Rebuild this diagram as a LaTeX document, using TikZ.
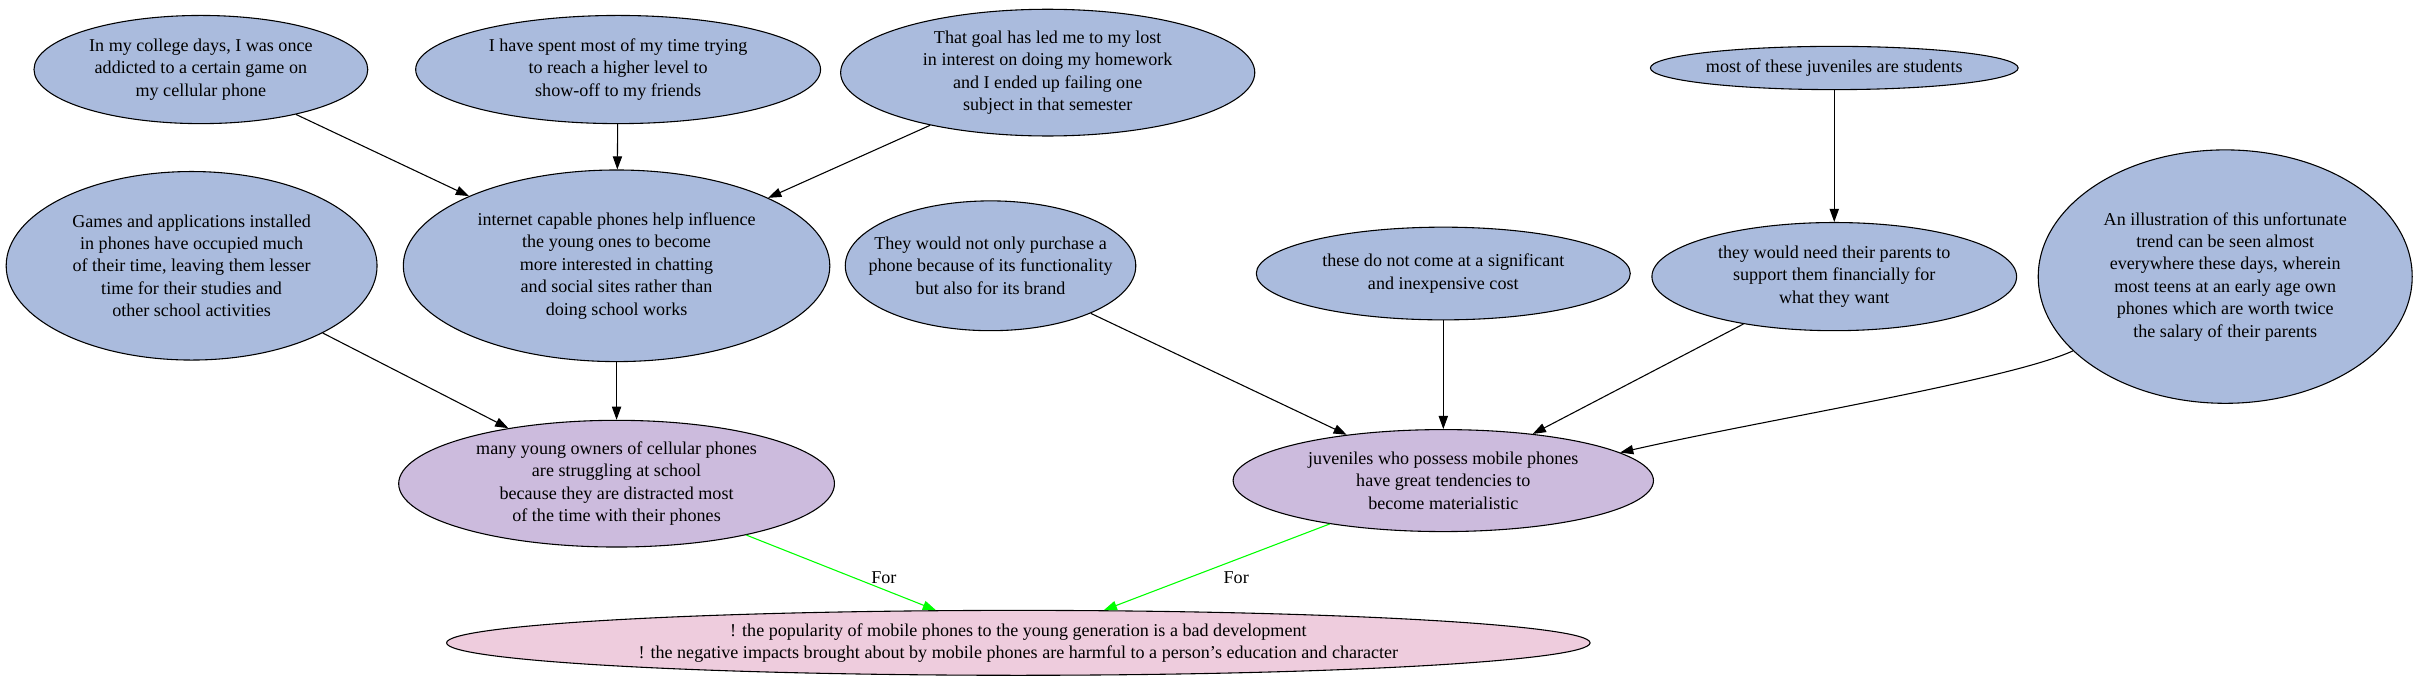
\documentclass[tikz,border=0pt]{standalone}
\usepackage{fontspec}
\setmainfont{Liberation Serif}
\usetikzlibrary{shapes.geometric,arrows.meta}
\definecolor{nblue}{HTML}{AABBDD}
\definecolor{npurple}{HTML}{CCBBDD}
\definecolor{npink}{HTML}{EECCDD}
\definecolor{egreen}{HTML}{00FF00}
\begin{document}
\begin{tikzpicture}[x=1pt,y=-1pt,
  base/.style={ellipse, draw=black, line width=0.7pt, inner sep=0pt, align=center,
    font=\fontsize{11.7}{14.5}\selectfont},
  bluenode/.style={base, fill=nblue},
  purplenode/.style={base, fill=npurple},
  pinknode/.style={base, fill=npink},
  textlab/.style={inner sep=0pt, align=center, font=\fontsize{11.7}{14.5}\selectfont},
  arr/.style={draw=black, line width=0.7pt, -{Triangle[length=8.5pt,width=6pt]}},
  garr/.style={draw=egreen, line width=0.7pt, -{Triangle[length=8.5pt,width=6pt]}},
  lab/.style={font=\fontsize{11.7}{14.5}\selectfont, text=black, inner sep=0pt}
]
\useasboundingbox (0,0) rectangle (1568,446.5);

\node[bluenode, minimum width=216pt, minimum height=70pt] (A) at (130,45)
  {In my college days, I was once\\addicted to a certain game on\\my cellular phone};
\node[bluenode, minimum width=262pt, minimum height=70pt] (B) at (400,45)
  {I have spent most of my time trying\\to reach a higher level to\\show-off to my friends};
\node[bluenode, minimum width=268pt, minimum height=82pt] (C) at (678,47)
  {That goal has led me to my lost\\in interest on doing my homework\\and I ended up failing one\\subject in that semester};
\node[bluenode, minimum width=238pt, minimum height=28pt] (D) at (1187,44)
  {most of these juveniles are students};
\node[bluenode, minimum width=240pt, minimum height=122pt] (E) at (124,172)
  {Games and applications installed\\in phones have occupied much\\of their time, leaving them lesser\\time for their studies and\\other school activities};
\node[bluenode, minimum width=276pt, minimum height=124pt] (F) at (399,172)
  {internet capable phones help influence\\the young ones to become\\more interested in chatting\\and social sites rather than\\doing school works};
\node[bluenode, minimum width=188pt, minimum height=84pt,
  label={[textlab]center:{They would not only purchase a\\phone because of its functionality\\but also for its brand}}] (G) at (641,172) {};
\node[bluenode, minimum width=242pt, minimum height=60pt] (H) at (934,177)
  {these do not come at a significant\\and inexpensive cost};
\node[bluenode, minimum width=236pt, minimum height=70pt] (I) at (1187,179)
  {they would need their parents to\\support them financially for\\what they want};
\node[bluenode, minimum width=242pt, minimum height=164pt] (J) at (1440,179)
  {An illustration of this unfortunate\\trend can be seen almost\\everywhere these days, wherein\\most teens at an early age own\\phones which are worth twice\\the salary of their parents};
\node[purplenode, minimum width=282pt, minimum height=82pt] (K) at (399,313)
  {many young owners of cellular phones\\are struggling at school\\because they are distracted most\\of the time with their phones};
\node[purplenode, minimum width=272pt, minimum height=66pt] (L) at (934,311)
  {juveniles who possess mobile phones\\have great tendencies to\\become materialistic};
\node[pinknode, minimum width=740pt, minimum height=42pt] (M) at (659,416)
  {! the popularity of mobile phones to the young generation is a bad development\\! the negative impacts brought about by mobile phones are harmful to a person’s education and character};

\draw[arr] (A) -- (F);
\draw[arr] (B) -- (F);
\draw[arr] (C) -- (F);
\draw[arr] (E) -- (K);
\draw[arr] (F) -- (K);
\draw[arr] (D) -- (I);
\draw[arr] (G) -- (L);
\draw[arr] (H) -- (L);
\draw[arr] (I) -- (L);
\draw[arr] (J.206) .. controls (1300,246) and (1140,272) .. (L.9);
\draw[garr] (K) -- (M) node[lab] (f1) at (572,374) {For};
\draw[garr] (L) -- (M) node[lab] (f2) at (800,374) {For};
\end{tikzpicture}
\end{document}
